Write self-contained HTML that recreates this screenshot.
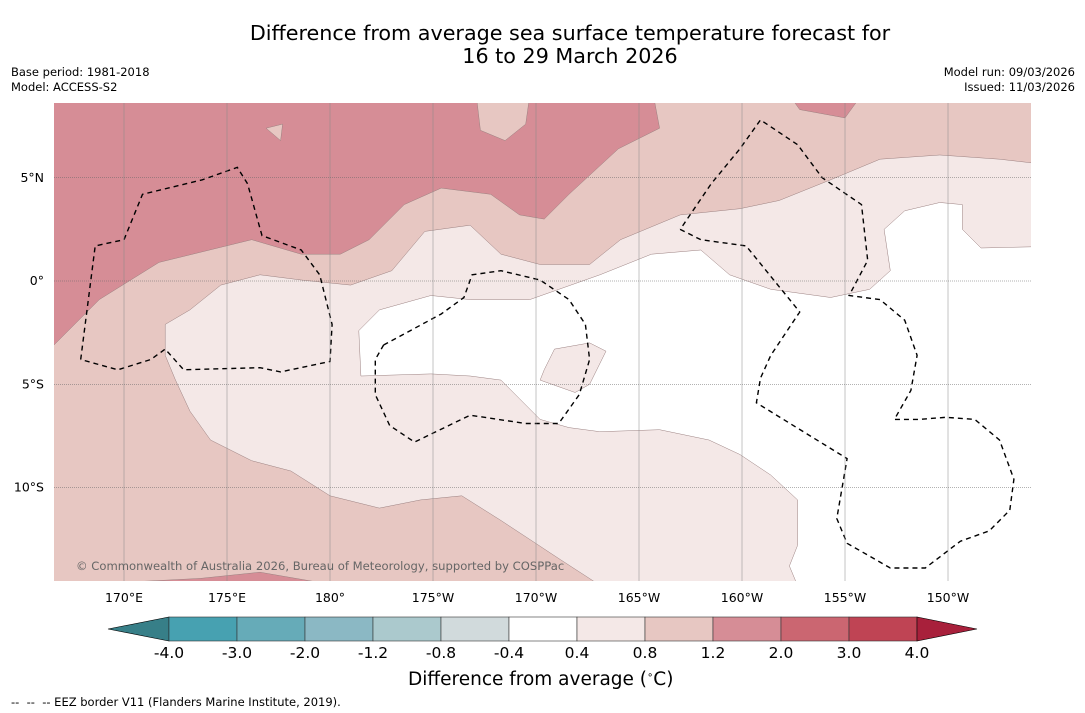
<!DOCTYPE html>
<html><head><meta charset="utf-8">
<style>
body{margin:0;background:#fff;font-family:"DejaVu Sans","Liberation Sans",sans-serif;}
#wrap{position:relative;width:1085px;height:713px;overflow:hidden;background:#fff}
.t{position:absolute;color:#000;white-space:nowrap}
</style></head><body>
<div id="wrap">
<div class="t" style="left:0;width:1140px;text-align:center;top:22px;font-size:20.7px;line-height:23px">Difference from average sea surface temperature forecast for<br>16 to 29 March 2026</div>
<div class="t" style="left:11px;top:65px;font-size:11.5px;line-height:15px">Base period: 1981-2018<br>Model: ACCESS-S2</div>
<div class="t" style="right:10px;top:65px;font-size:11.5px;line-height:15px;text-align:right">Model run: 09/03/2026<br>Issued: 11/03/2026</div>
<div class="t" style="left:408px;top:669px;font-size:18.5px">Difference from average (<sup style="font-size:10px">∘</sup>C)</div>
<div class="t" style="left:11px;top:695px;font-size:11.5px">-- &nbsp;-- &nbsp;-- EEZ border V11 (Flanders Marine Institute, 2019).</div>
<svg id="svg" width="1085" height="713" style="position:absolute;left:0;top:0">
<defs><clipPath id="mc"><rect x="54" y="103" width="977" height="478"/></clipPath></defs>
<g id="map" clip-path="url(#mc)"></g>
<g id="axes"></g>
<g id="cbar"></g>
</svg>
</div>
<script>
const NS='http://www.w3.org/2000/svg';
const FONT='DejaVu Sans, Liberation Sans, sans-serif';
const lonTicks=[170,175,180,185,190,195,200,205,210];
const lonLabels=['170°E','175°E','180°','175°W','170°W','165°W','160°W','155°W','150°W'];
const latTicks=[5,0,-5,-10];
const latLabels=['5°N','0°','5°S','10°S'];
const cbLevels=['-4.0','-3.0','-2.0','-1.2','-0.8','-0.4','0.4','0.8','1.2','2.0','3.0','4.0'];
const cbColors=['#47a1b1','#66abb8','#8bb8c4','#abc9cd','#d1dadc','#ffffff','#f4e8e7','#e7c7c2','#d68d96','#cb6671','#bf4454'];
const darkRegion=[[166,-3.7],[168.8,-0.9],[171.7,0.9],[176.2,2.0],[178.6,1.3],[180.5,1.3],[181.9,2.0],[183.6,3.7],[185.4,4.5],[187.8,4.2],[189.2,3.2],[190.4,3.0],[191.6,4.2],[194.0,6.4],[196.0,7.4],[195.7,9],[166,9]];
const darkTop=[[202.3,9],[205.8,9],[205.0,7.9],[202.8,8.3]];
const darkBottom=[[169.8,-15],[169.8,-14.6],[173.7,-14.4],[176.6,-14.1],[179.5,-14.6],[179.7,-15]];
const patchA=[[187.1,9],[189.7,9],[189.5,7.6],[188.5,6.8],[187.3,7.3]];
const patchB=[[176.9,7.4],[177.7,7.6],[177.6,6.8]];
const lightRegion=[[192.9,-15],[192.9,-14.6],[191.2,-13.5],[188.3,-11.6],[186.4,-10.4],[184.4,-10.6],[182.4,-11.0],[180.0,-10.4],[178.1,-9.2],[176.2,-8.7],[174.2,-7.7],[173.2,-6.3],[172.5,-4.8],[172.0,-3.6],[172.0,-2.1],[173.2,-1.4],[174.7,-0.2],[176.6,0.3],[178.6,0.05],[181.0,-0.2],[183.0,0.5],[184.6,2.4],[186.8,2.7],[188.3,1.3],[190.2,0.8],[192.6,0.8],[194.1,2.0],[197.0,3.2],[199.9,3.5],[201.8,3.9],[204.3,4.9],[206.7,5.9],[209.6,6.1],[212.5,5.9],[216,5.5],[216,-15]];
const whiteRegion=[[181.5,-4.6],[181.4,-2.4],[182.4,-1.4],[184.9,-0.7],[186.8,-0.9],[189.7,-0.9],[193.1,0.3],[195.6,1.3],[198.0,1.5],[199.4,0.3],[201.4,-0.4],[204.3,-0.8],[206.2,-0.4],[207.2,0.5],[206.9,2.5],[207.9,3.4],[209.6,3.8],[210.7,3.7],[210.7,2.5],[211.6,1.6],[216,1.7],[216,-15],[202.8,-15],[202.3,-13.8],[202.7,-12.8],[202.7,-10.6],[201.4,-9.4],[199.9,-8.4],[198.4,-7.7],[196.0,-7.2],[193.1,-7.3],[191.6,-7.1],[190.2,-6.7],[189.2,-5.7],[188.3,-4.8],[186.8,-4.6],[184.9,-4.5]];
const island=[[190.4,-4.3],[190.9,-3.3],[192.6,-3.0],[193.4,-3.4],[192.6,-5.0],[191.9,-5.4],[190.2,-4.8]];
const eezA=[[167.9,-3.8],[168.6,1.7],[170.0,2.0],[170.9,4.2],[173.8,4.9],[175.5,5.5],[176.0,4.7],[176.7,2.2],[178.6,1.5],[179.5,0.3],[179.8,-0.9],[180.1,-2.1],[180.0,-3.9],[177.6,-4.4],[176.6,-4.2],[172.9,-4.3],[172.0,-3.3],[171.3,-3.8],[169.7,-4.3],[167.9,-3.8]];
const eezB=[[182.6,-3.1],[185.4,-1.6],[186.5,-0.8],[186.9,0.3],[188.3,0.5],[190.2,0.05],[191.6,-0.9],[192.4,-2.1],[192.6,-3.8],[192.1,-5.5],[191.1,-6.9],[189.5,-6.9],[186.8,-6.5],[184.1,-7.8],[182.9,-7.0],[182.2,-5.5],[182.2,-3.8],[182.6,-3.1]];
const eezC=[[197.0,2.5],[198.0,2.0],[200.2,1.7],[202.8,-1.5],[201.4,-3.6],[200.9,-4.7],[200.7,-5.9],[205.1,-8.6],[204.6,-11.5],[205.1,-12.7],[207.2,-13.9],[208.9,-13.9],[210.6,-12.6],[212.0,-12.1],[213.0,-11.1],[213.2,-9.6],[212.5,-7.7],[211.3,-6.7],[209.9,-6.6],[208.6,-6.7],[207.4,-6.7],[208.2,-5.3],[208.5,-3.6],[207.9,-1.9],[206.7,-0.9],[205.2,-0.7],[206.1,1.0],[205.8,3.7],[203.9,5.0],[202.7,6.6],[200.9,7.8],[199.9,6.4],[198.5,4.7],[197.0,2.5]];

const X=lon=>124+(lon-170)*20.6;
const Y=lat=>281-lat*20.65;
function el(tag,attrs,parent){const e=document.createElementNS(NS,tag);for(const k in attrs)e.setAttribute(k,attrs[k]);parent.appendChild(e);return e;}
const pts=a=>a.map(p=>X(p[0]).toFixed(1)+','+Y(p[1]).toFixed(1)).join(' ');
const map=document.getElementById('map');
const bg=el('rect',{x:54,y:103,width:977,height:478,fill:'#e7c7c2'},map);


function region(a,fill,name){const p=el('polygon',{points:pts(a),fill:fill,stroke:'#9a8080','stroke-width':0.5},map);

}
region(darkRegion,'#d68d96','warm-anomaly-region');
region(darkTop,'#d68d96','warm-anomaly-top');
region(darkBottom,'#d68d96','warm-anomaly-bottom');
region(patchA,'#e7c7c2','mild-patch-north');
region(patchB,'#e7c7c2','mild-patch-small');
region(lightRegion,'#f4e8e7','slight-warm-region');
region(whiteRegion,'#ffffff','neutral-region');
region(island,'#f4e8e7','slight-warm-island');
function eez(a,name){const p=el('polyline',{points:pts(a),fill:'none',stroke:'#000','stroke-width':1.4,'stroke-dasharray':'5,4'},map);

}
eez(eezA,'eez-border-gilbert');eez(eezB,'eez-border-phoenix');eez(eezC,'eez-border-line');
const axes=document.getElementById('axes');
lonTicks.forEach((v,i)=>{const l=el('line',{x1:X(v),x2:X(v),y1:103,y2:581,stroke:'#888','stroke-width':0.5},axes);


const t=el('text',{x:X(v),y:602,'font-size':12.5,'text-anchor':'middle','font-family':FONT},axes);t.textContent=lonLabels[i];

});
latTicks.forEach((v,i)=>{const l=el('line',{x1:54,x2:1031,y1:Y(v),y2:Y(v),stroke:'#666','stroke-width':0.6,'stroke-dasharray':'1,1'},axes);


const t=el('text',{x:44,y:Y(v)+4,'font-size':12.5,'text-anchor':'end','font-family':FONT},axes);t.textContent=latLabels[i];

});
const copy=el('text',{x:76,y:570,'font-size':11.6,fill:'#666','font-family':FONT},axes);
copy.textContent='© Commonwealth of Australia 2026, Bureau of Meteorology, supported by COSPPac';


const cb=document.getElementById('cbar');
const cx0=169,cw=68,cy=617,ch=24;
const lt=el('polygon',{points:`108,${cy+ch/2} ${cx0},${cy} ${cx0},${cy+ch}`,fill:'#377f88',stroke:'#000','stroke-width':0.6},cb);


cbColors.forEach((c,i)=>{const r=el('rect',{x:cx0+i*cw,y:cy,width:cw,height:ch,fill:c,stroke:'#333','stroke-width':0.6},cb);

});
const xe=cx0+cbColors.length*cw;
const rt=el('polygon',{points:`${xe},${cy} ${xe},${cy+ch} 977,${cy+ch/2}`,fill:'#a8203b',stroke:'#000','stroke-width':0.6},cb);


cbLevels.forEach((s,i)=>{const t=el('text',{x:cx0+i*cw,y:658,'font-size':15.5,'text-anchor':'middle','font-family':FONT},cb);t.textContent=s;

});
</script>
</body></html>
